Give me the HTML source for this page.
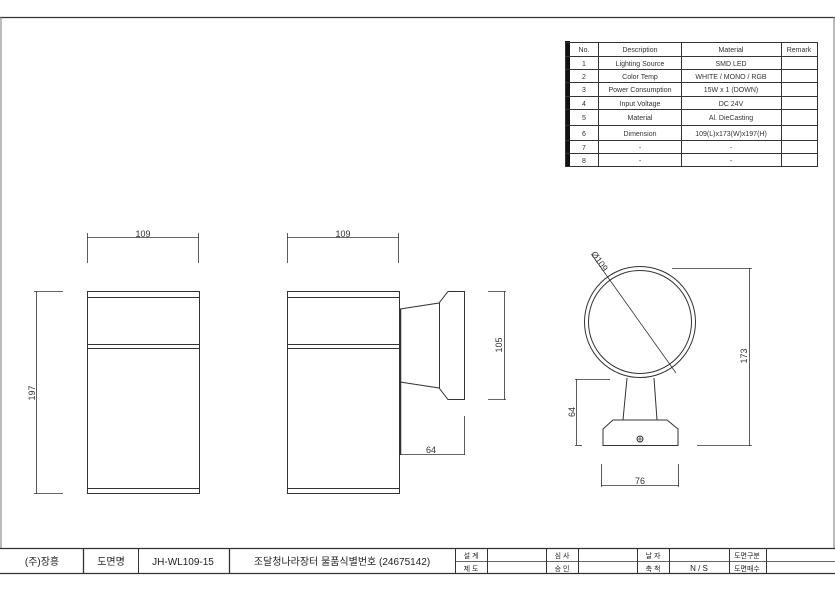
<!DOCTYPE html>
<html><head><meta charset="utf-8"><style>
html,body{margin:0;padding:0;background:#fff;}
svg{display:block;font-family:"Liberation Sans","Noto Sans CJK KR",sans-serif;}
</style></head><body>
<svg width="835" height="591" viewBox="0 0 835 591" xmlns="http://www.w3.org/2000/svg">
<g fill="none" stroke="#333" stroke-width="1">
<!-- frame -->
<line x1="0" y1="17.5" x2="835" y2="17.5" stroke-width="1.3"/>
<line x1="1" y1="17" x2="1" y2="548" stroke="#777"/>
<line x1="834" y1="17" x2="834" y2="548" stroke="#777"/>
<!-- title block -->
<line x1="0" y1="548.5" x2="835" y2="548.5" stroke-width="1.3"/>
<line x1="0" y1="573.5" x2="835" y2="573.5" stroke-width="1.3"/>
<line x1="83.5" y1="548" x2="83.5" y2="574" stroke-width="1.3"/>
<line x1="138.5" y1="548" x2="138.5" y2="574"/>
<line x1="229.5" y1="548" x2="229.5" y2="574" stroke-width="1.3"/>
<line x1="455.5" y1="548" x2="455.5" y2="574"/>
<line x1="487.5" y1="548" x2="487.5" y2="574"/>
<line x1="546.5" y1="548" x2="546.5" y2="574"/>
<line x1="578.5" y1="548" x2="578.5" y2="574"/>
<line x1="637.5" y1="548" x2="637.5" y2="574"/>
<line x1="669.5" y1="548" x2="669.5" y2="574"/>
<line x1="729.5" y1="548" x2="729.5" y2="574"/>
<line x1="766.5" y1="548" x2="766.5" y2="574"/>
<line x1="455" y1="561.5" x2="835" y2="561.5" stroke-width="0.8"/>

<!-- spec table -->
<rect x="565" y="41" width="5" height="126" fill="#111" stroke="none"/>
<rect x="565.5" y="42.5" width="252" height="124"/>
<line x1="598.5" y1="42" x2="598.5" y2="167"/>
<line x1="681.5" y1="42" x2="681.5" y2="167"/>
<line x1="781.5" y1="42" x2="781.5" y2="167"/>
<line x1="565" y1="56.5" x2="818" y2="56.5"/>
<line x1="565" y1="69.5" x2="818" y2="69.5"/>
<line x1="565" y1="82.5" x2="818" y2="82.5"/>
<line x1="565" y1="96.5" x2="818" y2="96.5"/>
<line x1="565" y1="109.5" x2="818" y2="109.5"/>
<line x1="565" y1="125.5" x2="818" y2="125.5"/>
<line x1="565" y1="140.5" x2="818" y2="140.5"/>
<line x1="565" y1="153.5" x2="818" y2="153.5"/>

<!-- left view -->
<rect x="87.5" y="291.5" width="112" height="202"/>
<line x1="87" y1="297.5" x2="200" y2="297.5"/>
<line x1="87" y1="344.5" x2="200" y2="344.5"/>
<line x1="87" y1="348.5" x2="200" y2="348.5"/>
<line x1="87" y1="488.5" x2="200" y2="488.5"/>
<line x1="87.5" y1="233" x2="87.5" y2="263" stroke-width="0.8"/>
<line x1="198.5" y1="233" x2="198.5" y2="263" stroke-width="0.8"/>
<line x1="87" y1="237.5" x2="199" y2="237.5" stroke-width="0.8"/>
<line x1="36.5" y1="291" x2="36.5" y2="494" stroke-width="0.8"/>
<line x1="34" y1="291.5" x2="63" y2="291.5" stroke-width="0.8"/>
<line x1="34" y1="493.5" x2="63" y2="493.5" stroke-width="0.8"/>

<!-- middle view -->
<rect x="287.5" y="291.5" width="112" height="202"/>
<line x1="287" y1="297.5" x2="400" y2="297.5"/>
<line x1="287" y1="344.5" x2="400" y2="344.5"/>
<line x1="287" y1="348.5" x2="400" y2="348.5"/>
<line x1="287" y1="488.5" x2="400" y2="488.5"/>
<line x1="400.5" y1="309" x2="400.5" y2="455" stroke-width="1.5"/>
<polyline points="400,309 439,303 448,291.5 464.5,291.5 464.5,399.5 448,399.5 439,388 400,382"/>
<line x1="439.5" y1="303" x2="439.5" y2="388"/>
<line x1="287.5" y1="233" x2="287.5" y2="263" stroke-width="0.8"/>
<line x1="398.5" y1="233" x2="398.5" y2="263" stroke-width="0.8"/>
<line x1="287" y1="237.5" x2="399" y2="237.5" stroke-width="0.8"/>
<line x1="504.5" y1="291" x2="504.5" y2="400" stroke-width="0.8"/>
<line x1="488" y1="291.5" x2="506" y2="291.5" stroke-width="0.8"/>
<line x1="488" y1="399.5" x2="506" y2="399.5" stroke-width="0.8"/>
<line x1="400" y1="454.5" x2="465" y2="454.5" stroke-width="0.8"/>
<line x1="464.5" y1="416" x2="464.5" y2="455" stroke-width="0.8"/>

<!-- right view -->
<circle cx="640" cy="322" r="55.5"/>
<circle cx="640" cy="322" r="51.5"/>
<line x1="592" y1="255" x2="676" y2="373" stroke-width="0.8"/>
<polyline points="627,378 623,420 657,420 654,378"/>
<polygon points="613,420 667,420 678,429 678,445.5 603,445.5 603,429"/>
<circle cx="640" cy="439" r="3"/>
<line x1="637" y1="439" x2="643" y2="439" stroke-width="0.7"/>
<line x1="640" y1="436" x2="640" y2="442" stroke-width="0.7"/>
<line x1="576.5" y1="379" x2="576.5" y2="445" stroke-width="0.8"/>
<line x1="575" y1="379.5" x2="610" y2="379.5" stroke-width="0.8"/>
<line x1="575" y1="445.5" x2="582" y2="445.5" stroke-width="0.8"/>
<line x1="749.5" y1="268" x2="749.5" y2="446" stroke-width="0.8"/>
<line x1="672" y1="268.5" x2="752" y2="268.5" stroke-width="0.8"/>
<line x1="697" y1="445.5" x2="752" y2="445.5" stroke-width="0.8"/>
<line x1="601" y1="485.5" x2="679" y2="485.5" stroke-width="0.8"/>
<line x1="601.5" y1="464" x2="601.5" y2="487" stroke-width="0.8"/>
<line x1="678.5" y1="464" x2="678.5" y2="487" stroke-width="0.8"/>
</g>

<g fill="#333" font-size="9" text-anchor="middle">
<text x="143" y="237">109</text>
<text x="343" y="237">109</text>
<text x="431" y="453">64</text>
<text x="640" y="484">76</text>
<text transform="translate(35,393) rotate(-90)">197</text>
<text transform="translate(502,345) rotate(-90)">105</text>
<text transform="translate(575,412) rotate(-90)">64</text>
<text transform="translate(747,356) rotate(-90)">173</text>
<text transform="translate(597,263) rotate(55)">Ø109</text>
</g>

<g fill="#333" font-size="7" text-anchor="middle">
<text x="584" y="52">No.</text><text x="640" y="52">Description</text><text x="731" y="52">Material</text><text x="799" y="52">Remark</text>
<text x="584" y="66">1</text><text x="640" y="66">Lighting Source</text><text x="731" y="66">SMD LED</text>
<text x="584" y="79">2</text><text x="640" y="79">Color Temp</text><text x="731" y="79">WHITE / MONO / RGB</text>
<text x="584" y="92">3</text><text x="640" y="92">Power Consumption</text><text x="731" y="92">15W x 1 (DOWN)</text>
<text x="584" y="106">4</text><text x="640" y="106">Input Voltage</text><text x="731" y="106">DC 24V</text>
<text x="584" y="120">5</text><text x="640" y="120">Material</text><text x="731" y="120">Al. DieCasting</text>
<text x="584" y="136">6</text><text x="640" y="136">Dimension</text><text x="731" y="136">109(L)x173(W)x197(H)</text>
<text x="584" y="150">7</text><text x="640" y="150">-</text><text x="731" y="150">-</text>
<text x="584" y="163">8</text><text x="640" y="163">-</text><text x="731" y="163">-</text>
</g>

<g fill="#222" font-size="10" text-anchor="middle">
<text x="42" y="565">(주)장흥</text>
<text x="111" y="565">도면명</text>
<text x="183" y="565">JH-WL109-15</text>
<text x="342" y="565">조달청나라장터 물품식별번호 (24675142)</text>
</g>
<g fill="#222" font-size="7" text-anchor="middle">
<text x="471" y="558">설 계</text><text x="471" y="571">제 도</text>
<text x="562" y="558">심 사</text><text x="562" y="571">승 인</text>
<text x="653" y="558">날 자</text><text x="653" y="571">축 척</text>
<text x="699" y="571" font-size="8">N / S</text>
<text x="747" y="558">도면구분</text><text x="747" y="571">도면매수</text>
</g>
</svg>
</body></html>
